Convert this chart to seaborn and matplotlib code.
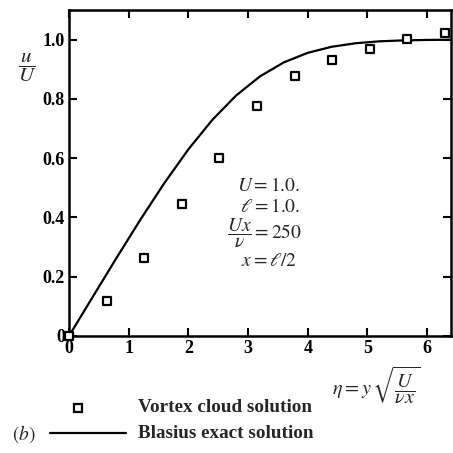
import matplotlib
matplotlib.use("Agg")
import matplotlib.pyplot as plt
import seaborn as sns
import pandas as pd
from matplotlib.lines import Line2D

# Vortex cloud solution (squares)
eta_vortex = [0.0, 0.63, 1.26, 1.89, 2.52, 3.15, 3.78, 4.41, 5.04, 5.67, 6.30]
u_vortex = [0.0, 0.118, 0.262, 0.445, 0.600, 0.776, 0.878, 0.932, 0.968, 1.003, 1.024]

# Blasius exact solution (line)
eta_blasius = [0.0, 0.4, 0.8, 1.2, 1.6, 2.0, 2.4, 2.8, 3.2, 3.6, 4.0, 4.4, 4.8, 5.2, 5.6, 6.0, 6.4]
u_blasius = [0.0, 0.1328, 0.2647, 0.3938, 0.5168, 0.6298, 0.7290, 0.8115, 0.8761, 0.9233,
             0.9555, 0.9759, 0.9878, 0.9943, 0.9975, 0.9990, 0.9996]

x_ticks = [0, 1, 2, 3, 4, 5, 6]
x_ticklabels = ["0", "1", "2", "3", "4", "5", "6"]
y_ticks = [0, 0.2, 0.4, 0.6, 0.8, 1.0]
y_ticklabels = ["0", "0.2", "0.4", "0.6", "0.8", "1.0"]
legend_labels = ["Vortex cloud solution", "Blasius exact solution"]

sns.set_theme(style="ticks")
plt.rcParams['font.family'] = ['Liberation Serif', 'DejaVu Serif']
plt.rcParams['mathtext.fontset'] = 'stix'

W = 453.0
fig = plt.figure(figsize=(4.53, 4.53), dpi=100)
fig.patch.set_facecolor("white")
ax = fig.add_axes([69/W, 117/W, 382/W, 326/W])
ax.set_facecolor("white")

df_b = pd.DataFrame({"eta": eta_blasius, "u": u_blasius})
df_v = pd.DataFrame({"eta": eta_vortex, "u": u_vortex})

sns.lineplot(data=df_b, x="eta", y="u", ax=ax, color="black", linewidth=1.6, clip_on=False)
sns.scatterplot(data=df_v, x="eta", y="u", ax=ax, marker="s", s=28, facecolor="white",
                edgecolor="black", linewidth=1.6, zorder=5, clip_on=False)

ax.set_xlim(0, 6.4)
ax.set_ylim(0, 1.1)
ax.set_xticks(x_ticks)
ax.set_xticklabels(x_ticklabels)
ax.set_yticks(y_ticks)
ax.set_yticklabels(y_ticklabels)
ax.tick_params(direction="in", length=6, width=1.5, top=True, right=True,
               labelsize=13, pad=3, colors="black")
for lbl in ax.get_xticklabels() + ax.get_yticklabels():
    lbl.set_fontweight("bold")
for sp in ax.spines.values():
    sp.set_linewidth(1.8)
    sp.set_color("black")
ax.set_xlabel("")
ax.set_ylabel("")

# axis labels
fig.text(27/W, 1 - 67/W, r"$\dfrac{u}{U}$", fontsize=15, ha="center", va="center")
fig.text(376/W, 1 - 385/W, r"$\eta = y\,\sqrt{\dfrac{U}{\nu x}}$", fontsize=14.5,
         ha="center", va="center")

# parameter annotations
fig.text(300/W, 1 - 186/W, r"$U = 1.0.$", fontsize=14, ha="right", va="center")
fig.text(300/W, 1 - 207/W, r"$\ell = 1.0.$", fontsize=14, ha="right", va="center")
fig.text(302/W, 1 - 233/W, r"$\dfrac{Ux}{\nu} = 250$", fontsize=14, ha="right", va="center")
fig.text(297/W, 1 - 262/W, r"$x = \ell/2$", fontsize=14, ha="right", va="center")

# legend (key drawn below the axes)
fig.add_artist(Line2D([78/W], [1 - 408/W], transform=fig.transFigure, linestyle="none",
                      marker="s", markersize=5.5, markerfacecolor="white",
                      markeredgecolor="black", markeredgewidth=1.6))
fig.add_artist(Line2D([50/W, 126/W], [1 - 433/W, 1 - 433/W], transform=fig.transFigure,
                      color="black", linewidth=1.6))
fig.text(138/W, 1 - 408/W, legend_labels[0], fontsize=13.8, fontweight="bold",
         ha="left", va="center")
fig.text(138/W, 1 - 433/W, legend_labels[1], fontsize=13.8, fontweight="bold",
         ha="left", va="center")
fig.text(12/W, 1 - 434/W, r"$(b)$", fontsize=14, ha="left", va="center")

fig.savefig("out.png", dpi=100, facecolor="white")
